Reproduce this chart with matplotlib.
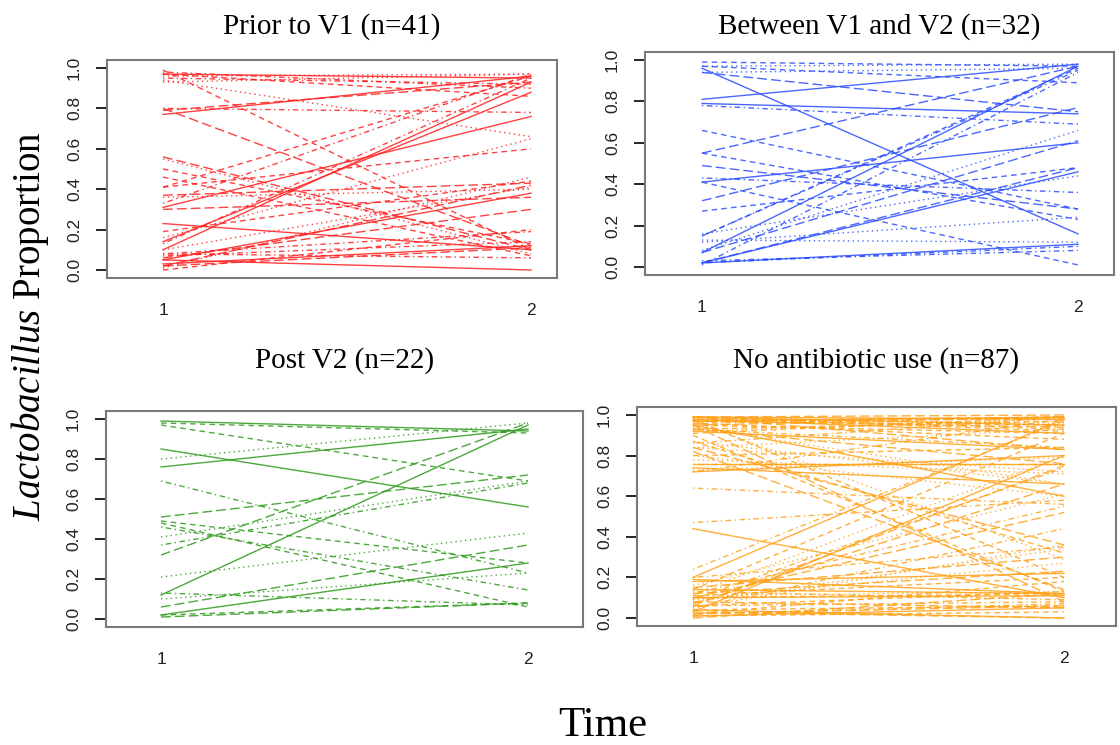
import numpy as np
import matplotlib.pyplot as plt

plt.rcParams['mathtext.fontset'] = 'custom'
plt.rcParams['mathtext.rm'] = 'Liberation Serif'
plt.rcParams['mathtext.it'] = 'Liberation Serif:italic'

# proportion at time 1 and time 2, one entry per subject
prior_t1 = [0.77, 0.99, 0.96, 0.95, 0.80, 0.05, 0.41, 0.55, 0.80, 0.37,
            0.31, 0.97, 0.01, 0.33, 0.06, 0.23, 0.50, 0.94, 0.13, 0.02,
            0.97, 0.46, 0.16, 0.08, 0.79, 0.03, 0.19, 0.10, 0.98, 0.02,
            0.10, 0.41, 0.36, 0.07, 0.56, 0.05, 0.00, 0.93, 0.08, 0.30, 0.14]
prior_t2 = [0.96, 0.10, 0.97, 0.92, 0.12, 0.00, 0.60, 0.08, 0.78, 0.43,
            0.76, 0.86, 0.46, 0.97, 0.30, 0.10, 0.13, 0.66, 0.95, 0.42,
            0.95, 0.07, 0.65, 0.19, 0.93, 0.12, 0.44, 0.41, 0.90, 0.11,
            0.93, 0.96, 0.40, 0.14, 0.10, 0.38, 0.20, 0.97, 0.06, 0.36, 0.88]

between_t1 = [0.96, 0.99, 0.97, 0.78, 0.55, 0.81, 0.66, 0.94, 0.15, 0.32,
              0.41, 0.27, 0.12, 0.02, 0.49, 0.79, 0.97, 0.08, 0.43, 0.07,
              0.07, 0.41, 0.16, 0.03, 0.02, 0.02, 0.55, 0.13, 0.01, 0.94,
              0.02, 0.15]
between_t2 = [0.16, 0.97, 0.98, 0.69, 0.97, 0.98, 0.28, 0.96, 0.95, 0.77,
              0.60, 0.48, 0.24, 0.10, 0.28, 0.74, 0.89, 0.66, 0.36, 0.61,
              0.97, 0.01, 0.44, 0.08, 0.48, 0.46, 0.23, 0.12, 0.94, 0.75,
              0.11, 0.96]

post_t1 = [0.99, 0.98, 0.80, 0.69, 0.51, 0.85, 0.97, 0.41, 0.37, 0.32,
           0.76, 0.49, 0.21, 0.46, 0.06, 0.12, 0.02, 0.10, 0.13, 0.01,
           0.02, 0.48]
post_t2 = [0.94, 0.93, 0.98, 0.23, 0.72, 0.56, 0.69, 0.69, 0.68, 0.98,
           0.95, 0.28, 0.43, 0.145, 0.37, 0.97, 0.08, 0.23, 0.07, 0.08,
           0.28, 0.06]

none_t1 = [0.99, 0.97, 0.98, 0.93, 0.95, 0.20, 0.10, 0.84, 0.64, 0.06,
           0.44, 0.99, 0.87, 0.47, 0.12, 0.76, 0.90, 0.08, 0.24, 0.03,
           0.18, 0.97, 0.80, 0.05, 0.99, 0.95, 0.14, 0.73, 0.02, 0.84,
           0.19, 0.93, 0.11, 0.96, 0.07, 0.01, 0.98, 0.92, 0.12, 0.97,
           0.72, 0.04, 0.99, 0.86, 0.15, 0.97, 0.87, 0.09, 0.72, 0.00,
           0.10, 0.95, 0.78, 0.06, 0.93, 0.92, 0.02, 0.16, 0.99, 0.82,
           0.03, 0.96, 0.94, 0.13, 0.08, 0.98, 0.11, 0.05, 0.76, 0.99,
           0.14, 0.80, 0.97, 0.09, 0.02, 0.99, 0.06, 0.84, 0.20, 0.95,
           0.74, 0.01, 0.12, 0.98, 0.10, 0.04, 0.91]
none_t2 = [0.98, 0.99, 0.96, 0.84, 0.99, 0.98, 0.12, 0.72, 0.56, 0.75,
           0.10, 0.92, 0.66, 0.58, 0.23, 0.76, 0.13, 0.34, 0.97, 0.00,
           0.22, 0.95, 0.60, 0.44, 0.83, 0.60, 0.91, 0.79, 0.07, 0.36,
           0.12, 0.97, 0.13, 0.99, 0.66, 0.05, 0.20, 0.98, 0.55, 0.94,
           0.80, 0.06, 0.95, 0.99, 0.30, 0.99, 0.32, 0.27, 0.98, 0.12,
           0.11, 0.91, 0.71, 0.08, 0.76, 0.83, 0.18, 0.61, 0.93, 0.14,
           0.80, 0.88, 0.66, 0.09, 0.05, 0.91, 0.20, 0.36, 0.76, 1.00,
           0.12, 0.84, 0.29, 0.74, 0.06, 0.95, 0.13, 0.93, 0.35, 0.08,
           0.66, 0.03, 0.80, 0.98, 0.52, 0.00, 0.99]

titles = ['Prior to V1 (n=41)', 'Between V1 and V2 (n=32)',
          'Post V2 (n=22)', 'No antibiotic use (n=87)']
colors = ['#ff2020', '#2a4dff', '#2e9a1c', '#ffa21a']
series = [(prior_t1, prior_t2), (between_t1, between_t2),
          (post_t1, post_t2), (none_t1, none_t2)]

# R lty 1:5 -> solid, dashed, dotted, dotdash, longdash
ltys = ['-', (0, (4, 3)), (0, (1, 2.5)), (0, (1, 2.5, 4, 2.5)), (0, (7, 3))]

W, H = 1120, 745
fig = plt.figure(figsize=(W / 100, H / 100), dpi=100)

# pixel geometry: box left, box right, px of x=1, px of x=2, px of y=0, px of y=1
geo = [(107, 557, 163, 531, 270, 68),
       (645, 1114, 702, 1078, 267, 60),
       (106, 583, 161, 528, 619, 419),
       (637, 1116, 693, 1064, 618, 415)]
title_y = [27, 27, 361, 361]

for k in range(4):
    bl, br, x1, x2, y0, y1 = geo[k]
    sx = x2 - x1
    sy = y0 - y1
    xlo = 1 - (x1 - bl) / sx
    xhi = 2 + (br - x2) / sx
    bt = y1 - 0.04 * sy
    bb = y0 + 0.04 * sy
    ax = fig.add_axes([bl / W, 1 - bb / H, (br - bl) / W, (bb - bt) / H])
    ax.set_xlim(xlo, xhi)
    ax.set_ylim(-0.04, 1.04)
    t1, t2 = series[k]
    for i in range(len(t1)):
        ax.plot([1, 2], [t1[i], t2[i]], color=colors[k], ls=ltys[i % 5],
                lw=1.0, alpha=0.85)
    for s in ax.spines.values():
        s.set_color('#7a7a7a')
        s.set_linewidth(1.5)
    ax.plot([xlo, xlo], [0, 1], color='black', lw=1.2, clip_on=False)
    ax.set_yticks([0, 0.2, 0.4, 0.6, 0.8, 1.0])
    ax.set_yticklabels(['0.0', '0.2', '0.4', '0.6', '0.8', '1.0'],
                       rotation=90, va='center', family='Liberation Sans',
                       fontsize=12.5, color='#222222')
    ax.tick_params(axis='y', length=8, width=1.2, pad=10, color='black')
    ax.set_xticks([1, 2])
    ax.set_xticklabels(['1', '2'], family='Liberation Sans', fontsize=12.5,
                       color='#222222')
    ax.tick_params(axis='x', length=0, pad=18)
    fig.text((bl + br) / 2 / W, 1 - title_y[k] / H, titles[k],
             ha='center', va='center', family='Liberation Serif', fontsize=21)

fig.text(30 / W, 1 - 326 / H, r'$\mathit{Lactobacillus}$ Proportion',
         rotation=90, ha='center', va='center', family='Liberation Serif',
         fontsize=28)
fig.text(603 / W, 1 - 726 / H, 'Time', ha='center', va='center',
         family='Liberation Serif', fontsize=31)

fig.savefig('out.png', dpi=100, facecolor='white')
